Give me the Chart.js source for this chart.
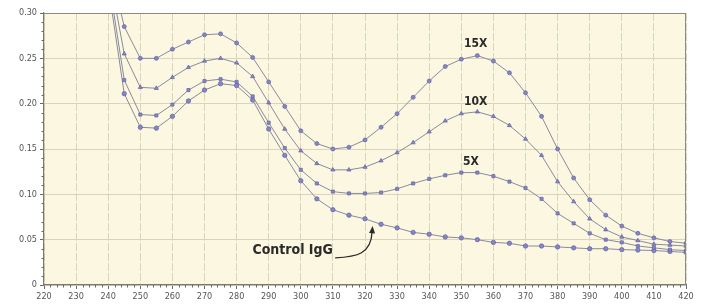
<!DOCTYPE html>
<html>
<head>
<meta charset="utf-8">
<script src="https://cdn.jsdelivr.net/npm/chart.js@4/dist/chart.umd.min.js"></script>
<style>
html,body{margin:0;padding:0;background:#fff;}
#wrap{width:706px;height:307px;}
</style>
</head>
<body>
<div id="wrap"><canvas id="c" width="706" height="307"></canvas></div>
<script>
const wavelengths = [240,245,250,255,260,265,270,275,280,285,290,295,300,305,310,315,320,325,330,335,340,345,350,355,360,365,370,375,380,385,390,395,400,405,410,415,420];
const s15X = [0.36,0.285,0.250,0.250,0.260,0.268,0.276,0.277,0.267,0.251,0.224,0.197,0.170,0.156,0.150,0.152,0.160,0.174,0.189,0.207,0.225,0.241,0.249,0.253,0.247,0.234,0.212,0.186,0.150,0.118,0.094,0.077,0.065,0.057,0.052,0.048,0.046];
const s10X = [0.35,0.255,0.218,0.217,0.229,0.240,0.247,0.250,0.245,0.230,0.201,0.172,0.148,0.134,0.127,0.127,0.130,0.137,0.146,0.157,0.169,0.181,0.189,0.191,0.186,0.176,0.161,0.143,0.114,0.092,0.073,0.061,0.053,0.049,0.045,0.044,0.043];
const s5X = [0.34,0.226,0.188,0.187,0.199,0.215,0.225,0.227,0.224,0.208,0.179,0.151,0.127,0.112,0.103,0.101,0.101,0.102,0.106,0.112,0.117,0.121,0.124,0.124,0.120,0.114,0.107,0.095,0.079,0.068,0.057,0.050,0.047,0.043,0.041,0.039,0.038];
const sControl = [0.33,0.211,0.174,0.173,0.186,0.203,0.215,0.222,0.220,0.204,0.172,0.143,0.115,0.095,0.083,0.077,0.073,0.067,0.063,0.058,0.056,0.053,0.052,0.050,0.047,0.046,0.043,0.043,0.042,0.041,0.040,0.040,0.039,0.0385,0.038,0.037,0.036];
const xTicks = [220,230,240,250,260,270,280,290,300,310,320,330,340,350,360,370,380,390,400,410,420];
const yTicks = [0,0.05,0.10,0.15,0.20,0.25,0.30];
const seriesLabels = ['15X','10X','5X','Control IgG'];

function pts(vals){ return wavelengths.map((w,i)=>({x:w,y:vals[i]})); }

const lineCol = '#8a8a9c';
const ptFill = '#8585c8';
const ptBorder = '#6262a2';
function ds(label, vals, style, r){
  return {label, data:pts(vals), borderColor:lineCol, borderWidth:1, tension:0,
    pointStyle:style, pointRadius:r, pointBackgroundColor:ptFill, pointBorderColor:ptBorder, pointBorderWidth:0.7};
}

const bgPlugin = {
  id:'bg',
  beforeDraw(chart){
    const {ctx, chartArea:a} = chart;
    ctx.save();
    ctx.fillStyle='#ffffff';
    ctx.fillRect(0,0,chart.width,chart.height);
    ctx.fillStyle='#fcf7e0';
    ctx.fillRect(a.left,a.top,a.right-a.left,a.bottom-a.top);
    ctx.restore();
  },
  afterDraw(chart){
    const {ctx, chartArea:a, scales} = chart;
    const xs = scales.x, ys = scales.y;
    ctx.save();
    ctx.strokeStyle='#8a8a80';
    ctx.lineWidth=1;
    ctx.beginPath();
    ctx.moveTo(a.left, a.top+0.5); ctx.lineTo(a.right, a.top+0.5);
    ctx.moveTo(a.right-0.5, a.top); ctx.lineTo(a.right-0.5, a.bottom);
    ctx.stroke();
    ctx.strokeStyle='#6a6a60';
    ctx.beginPath();
    for(let v=220; v<=420; v+=2){
      if(v%10===0) continue;
      const px = Math.round(xs.getPixelForValue(v))+0.5;
      ctx.moveTo(px, a.bottom); ctx.lineTo(px, a.bottom+2.5);
    }
    for(let k=0; k<=30; k++){
      if(k%5===0) continue;
      const py = Math.round(ys.getPixelForValue(k/100))+0.5;
      ctx.moveTo(a.left, py); ctx.lineTo(a.left-2.5, py);
    }
    ctx.stroke();
    ctx.restore();
  }
};

const annPlugin = {
  id:'ann',
  afterDatasetsDraw(chart){
    const {ctx} = chart;
    const X = v=>chart.scales.x.getPixelForValue(v);
    const Y = v=>chart.scales.y.getPixelForValue(v);
    ctx.save();
    ctx.fillStyle='#2a2a2a';
    ctx.font='bold 12px "DejaVu Sans Condensed", "DejaVu Sans", sans-serif';
    ctx.textAlign='center'; ctx.textBaseline='middle';
    ctx.fillText(seriesLabels[0], X(354.5), Y(0.266));
    ctx.fillText(seriesLabels[1], X(354.5), Y(0.202));
    ctx.fillText(seriesLabels[2], X(353), Y(0.136));
    ctx.font='bold 14px "DejaVu Sans Condensed", "DejaVu Sans", sans-serif';
    ctx.textAlign='right';
    ctx.fillText(seriesLabels[3], X(310), Y(0.038));
    const sx = X(310.7), sy = Y(0.030);
    const ex = X(322.2), ey = Y(0.064);
    ctx.strokeStyle='#2a2a2a'; ctx.lineWidth=1.3;
    ctx.beginPath();
    ctx.moveTo(sx, sy);
    ctx.bezierCurveTo(sx+22, sy-1, ex-1, sy-4, ex, ey+5);
    ctx.stroke();
    ctx.beginPath();
    ctx.moveTo(ex+0.5, ey-1);
    ctx.lineTo(ex-3, ey+6);
    ctx.lineTo(ex+3, ey+6.5);
    ctx.closePath();
    ctx.fill();
    ctx.restore();
  }
};

new Chart(document.getElementById('c'), {
  type:'line',
  data:{ datasets:[ ds(seriesLabels[0], s15X, 'circle', 2), ds(seriesLabels[1], s10X, 'triangle', 2.4), ds(seriesLabels[2], s5X, 'rect', 2.2), ds(seriesLabels[3], sControl, 'circle', 2.2) ] },
  options:{
    responsive:false, animation:false, devicePixelRatio:1,
    layout:{ padding:{ top:13, right:20, left:0, bottom:0 } },
    plugins:{ legend:{display:false}, tooltip:{enabled:false} },
    scales:{
      x:{
        type:'linear', min:220, max:420,
        afterBuildTicks(s){ s.ticks = xTicks.map(v=>({value:v})); },
        afterFit(s){ s.height = 22; },
        ticks:{ color:'#555', font:{size:9, family:'"DejaVu Sans Condensed", "DejaVu Sans", sans-serif'}, padding:2, maxRotation:0, autoSkip:false },
        grid:{ color:'#dad4bd', lineWidth:1, tickLength:4, tickColor:'#6a6a60' },
        border:{ color:'#7a7a70', width:1.2, dash:[8,2] }
      },
      y:{
        type:'linear', min:0, max:0.30,
        afterBuildTicks(s){ s.ticks = yTicks.map(v=>({value:v})); },
        afterFit(s){ s.width = 44; },
        ticks:{ color:'#555', font:{size:9, family:'"DejaVu Sans Condensed", "DejaVu Sans", sans-serif'}, padding:3,
          callback:(v)=> v===0 ? '0' : v.toFixed(2) },
        grid:{ color:'#dad4bd', lineWidth:1, tickLength:4, tickColor:'#6a6a60' },
        border:{ color:'#7a7a70', width:1.2 }
      }
    }
  },
  plugins:[bgPlugin, annPlugin]
});
</script>
</body>
</html>
